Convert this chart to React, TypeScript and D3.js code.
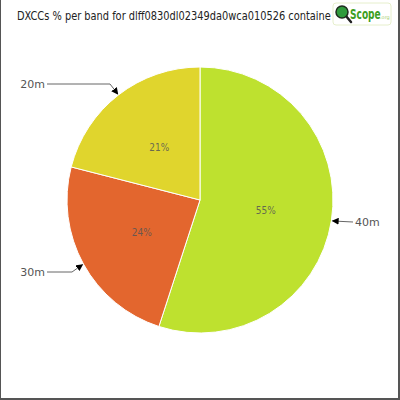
import React from "react";
import * as d3 from "d3";

// Chart data
const bands = ["40m", "30m", "20m"];
const shares = [55, 24, 21];
const bandColors = ["#bee12f", "#e3662e", "#e0d52d"];
// the visible part of the title (the rest sits under the logo)
const titleText = "DXCCs % per band for dlff0830dl02349da0wca010526 containe";

const W = 400;
const H = 400;
const cx = 200;
const cy = 200;
const radius = 133;

// Connector/label positions for the outside labels
const labelSpots = [
  { x: 355, y: 222, anchor: "start", bend: null },
  { x: 46, y: 272, anchor: "end", bend: 72 },
  { x: 46, y: 84, anchor: "end", bend: 110 },
];

const App: React.FC = () => {
  const pie = d3
    .pie<number>()
    .sort(null)
    .value((d) => d);
  const arcs = pie(shares);
  const arcGen = d3.arc<d3.PieArcDatum<number>>().innerRadius(0).outerRadius(radius);
  const inner = d3.arc<d3.PieArcDatum<number>>().innerRadius(radius / 2).outerRadius(radius / 2);

  return (
    <div style={{ position: "fixed", left: 0, top: 0 }}>
      <svg width={W} height={H} style={{ display: "block", background: "#fff" }}>
        <defs>
          <marker id="arrow" viewBox="0 0 10 10" refX="9" refY="5" markerWidth="7" markerHeight="7" orient="auto">
            <path d="M0,0 L10,5 L0,10 z" fill="#000" />
          </marker>
        </defs>
        {/* frame */}
        <rect x={0} y={0} width={1} height={H} fill="#555" />
        <rect x={W - 2} y={0} width={2} height={H} fill="#555" />
        <rect x={0} y={H - 2} width={W} height={2} fill="#555" />

        <g transform={`translate(${cx},${cy})`}>
          {arcs.map((a, i) => (
            <path key={bands[i]} d={arcGen(a) as string} fill={bandColors[i]} stroke="#fff" strokeWidth={1} />
          ))}
          {arcs.map((a, i) => {
            const [x, y] = inner.centroid(a);
            return (
              <text
                key={"p" + bands[i]}
                x={x}
                y={y}
                textAnchor="middle"
                dy="0.35em"
                fontFamily="DejaVu Sans Condensed"
                fontSize={10}
                fill="#555"
                fillOpacity={0.85}
              >
                {shares[i]}%
              </text>
            );
          })}
        </g>

        {/* outside labels with connectors */}
        {arcs.map((a, i) => {
          const mid = (a.startAngle + a.endAngle) / 2;
          const tx = cx + (radius + 1) * Math.sin(mid);
          const ty = cy - (radius + 1) * Math.cos(mid);
          const s = labelSpots[i];
          const startX = s.anchor === "start" ? s.x - 2 : s.x + 1;
          const pts: [number, number][] = [[startX, s.y]];
          if (s.bend !== null) pts.push([s.bend, s.y]);
          pts.push([tx, ty]);
          const line = d3.line()(pts) as string;
          return (
            <g key={"l" + bands[i]}>
              <path d={line} fill="none" stroke="#666" strokeWidth={1} markerEnd="url(#arrow)" />
              <text
                x={s.anchor === "start" ? s.x : s.x - 1}
                y={s.y}
                dy="0.35em"
                textAnchor={s.anchor as "start" | "end"}
                fontFamily="DejaVu Sans"
                fontSize={11}
                fill="#555"
              >
                {bands[i]}
              </text>
            </g>
          );
        })}

        {/* title, squeezed horizontally to fit left of the logo */}
        <text
          transform="translate(17,20) scale(0.91,1)"
          fontFamily="DejaVu Sans Condensed"
          fontSize={12}
          fill="#222"
        >
          {titleText}
        </text>

        {/* logo */}
        <g>
          <rect x={333} y={3} width={58} height={22} rx={3} fill="#fff" stroke="#e6efcc" strokeWidth={1} />
          <line x1={346} y1={16} x2={351} y2={22} stroke="#222" strokeWidth={2.5} strokeLinecap="round" />
          <circle cx={342} cy={12} r={6} fill="#2f9b3c" stroke="#1d2d1d" strokeWidth={1.5} />
          <text
            transform="translate(350,19) scale(0.72,1)"
            fontFamily="DejaVu Sans Condensed"
            fontWeight="bold"
            fontSize={14}
            fill="#3c9e22"
          >
            Scope
          </text>
          <text x={380} y={19} fontFamily="DejaVu Sans" fontSize={5} fill="#a8d070">
            .org
          </text>
        </g>
      </svg>
    </div>
  );
};

export default App;
